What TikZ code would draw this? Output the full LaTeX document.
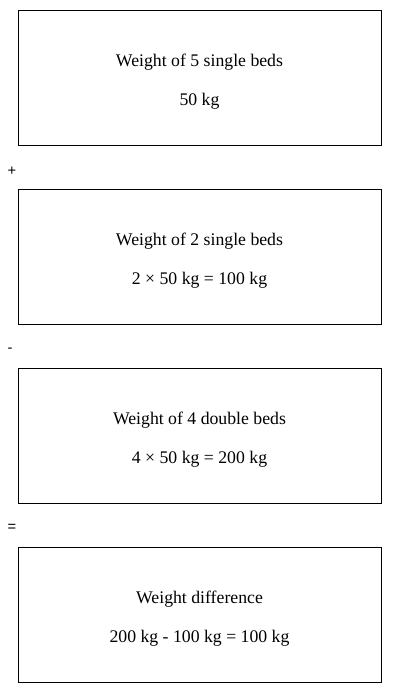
\documentclass[tikz,border=0pt]{standalone}
\usepackage{fontspec}
\setmainfont{Liberation Serif}
\newfontfamily\signfont{Liberation Sans}
\begin{document}
\begin{tikzpicture}[x=0.75pt,y=-0.75pt,
	boxtext/.style={font=\fontsize{13.3}{16}\selectfont, inner sep=0pt},
	signtext/.style={font=\signfont\fontsize{11}{13}\selectfont, inner sep=0pt}]
	\useasboundingbox (0,0) rectangle (400,693);

		\draw(18, 10) rectangle (381, 145);
			\node[boxtext] (singleA) at(199.5, 62){Weight of 5 single beds};
			\node[boxtext] (singleAval) at(199.5, 101){50 kg};

		\draw(18, 189) rectangle (381, 324);
			\node[boxtext] (singleB) at(199.5, 241){Weight of 2 single beds};
			\node[boxtext] (singleBval) at(199.5, 280){2 × 50 kg = 100 kg};

		\draw(18, 368) rectangle (381, 503);
			\node[boxtext] (double) at(199.5, 420){Weight of 4 double beds};
			\node[boxtext] (doubleval) at(199.5, 459){4 × 50 kg = 200 kg};

		\draw(18, 547) rectangle (381, 682);
			\node[boxtext] (diff) at(199.5, 599){Weight difference};
			\node[boxtext] (diffval) at(199.5, 638){200 kg - 100 kg = 100 kg};

		\node[signtext] (plus) at(12, 171){+};
		\node[signtext] (minus) at(10, 350){-};
		\node[signtext] (equals) at(12, 528){=};
	\end{tikzpicture}
\end{document}
